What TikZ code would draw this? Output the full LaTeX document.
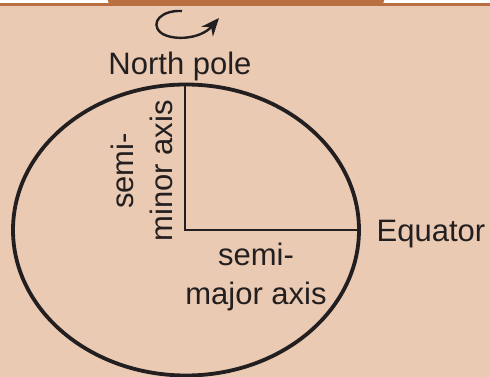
\documentclass[tikz,border=0pt]{standalone}
\usepackage{fontspec}
\setmainfont{Liberation Sans}
\usepackage{tikz}
\usetikzlibrary{arrows.meta}
\definecolor{peach}{HTML}{EACAB3}
\definecolor{rust}{HTML}{BA6F41}
\definecolor{ink}{HTML}{231F20}

\begin{document}
\begin{tikzpicture}[x=1pt, y=-1pt,
    every node/.style={font=\fontsize{31}{39}\selectfont, text=ink, inner sep=0pt},
    rim/.style={draw=ink, line width=3.8pt},
    semiaxis/.style={draw=ink, line width=2pt},
    spin/.style={draw=ink, line width=2.4pt, -{Stealth[length=18pt, width=15pt, inset=6pt]}}]
  \useasboundingbox (0,0) rectangle (490,377);
  % page frame
  \fill[white] (0,0) rectangle (490,377);
  \fill[peach] (0,3) rectangle (490,377);
  \fill[rust] (0,3) rectangle (490,5.6);
  \fill[rust, rounded corners=4pt] (108,-6) rectangle (384,5);
  % earth outline and the two semi-axes
  \coordinate (centre) at (186,230);
  \coordinate (pole) at (184.5,84.5);
  \coordinate (equ) at (359,230);
  \draw[rim] (centre) ellipse [x radius=173, y radius=145.5];
  \draw[semiaxis] (pole) |- (equ);
  % rotation arrow
  \coordinate (spinstart) at (182,11);
  \coordinate (spintip) at (219,18);
  \draw[spin] (spinstart) .. controls (162,10) and (150,22) .. (160,32)
    .. controls (170,41) and (200,40) .. (spintip);
  % labels
  \node[anchor=base] (northlbl) at (180,75) {North pole};
  \node[anchor=base] (equlbl) at (431,241) {Equator};
  \node[anchor=north, align=center] (majorlbl) at (256,243) {semi-\\major axis};
  \node[anchor=north, align=center, rotate=90] (minorlbl) at (111,171) {semi-\\minor axis};
\end{tikzpicture}
\end{document}
